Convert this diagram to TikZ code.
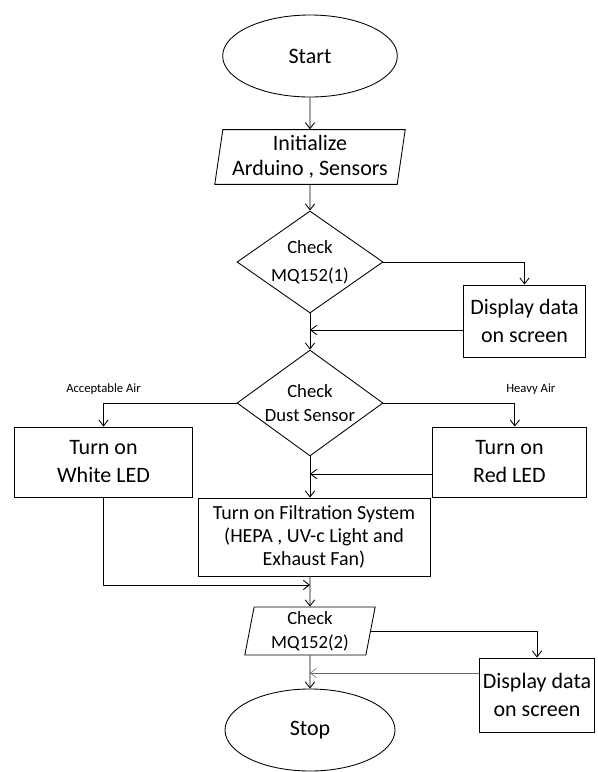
\documentclass[tikz,border=0pt]{standalone}
\usepackage{fontspec}
\setmainfont{Carlito}
\usetikzlibrary{arrows.meta,shapes.geometric}

\begin{document}
\begin{tikzpicture}[x=0.75pt,y=-0.75pt,line width=0.65pt,>={Straight Barb[length=4.5pt,width=7pt]},
terminal/.style={ellipse,draw,minimum width=131pt,minimum height=61.5pt,font=\fontsize{16.5}{20}\selectfont},
io/.style={trapezium,trapezium left angle=81,trapezium right angle=99,trapezium stretches=true,draw,align=center,inner sep=1pt},
decision/.style={diamond,draw,align=center,inner sep=-4pt,minimum width=109.5pt,minimum height=76.5pt,font=\fontsize{14}{18}\selectfont},
process/.style={rectangle,draw,align=center,inner sep=2pt,font=\fontsize{16.5}{21}\selectfont},
note/.style={font=\fontsize{9.5}{11}\selectfont}]
\useasboundingbox (0,0) rectangle (598,772);
\node[terminal] (start) at (310,56) {Start};
\node[io,minimum width=143pt,minimum height=41pt,font=\fontsize{16.5}{19}\selectfont] (init) at (310,157) {Initialize\\Arduino , Sensors};
\node[decision,font=\fontsize{14}{21}\selectfont] (chk1) at (310,262) {Check\\MQ152(1)};
\node[process,minimum width=92pt,minimum height=54pt] (disp1) at (524.5,321) {Display data\\on screen};
\node[decision] (dust) at (310,403) {Check\\Dust Sensor};
\node[process,minimum width=133pt,minimum height=52.5pt] (white) at (103.5,462) {Turn on\\White LED};
\node[process,minimum width=115pt,minimum height=52.5pt] (red) at (509.5,462) {Turn on\\Red LED};
\node[process,minimum width=174pt,minimum height=58.5pt,font=\fontsize{15}{17}\selectfont] (filter) at (314,537) {Turn on Filtration System\\(HEPA , UV-c Light and\\Exhaust Fan)};
\node[io,minimum width=98pt,minimum height=36pt,font=\fontsize{14}{18}\selectfont] (chk2) at (310,631) {Check\\MQ152(2)};
\node[process,minimum width=86pt,minimum height=55.5pt] (disp2) at (537,695) {Display data\\on screen};
\node[terminal,minimum width=127.5pt] (stop) at (310,730) {Stop};
\coordinate (fb1) at ([yshift=-6.75pt]disp1.west);
\coordinate (fb2) at ([yshift=-9pt]red.west);
\coordinate (fb3) at ([yshift=16.5pt]disp2.west);
\coordinate (merge) at (310,585);
\draw[->] (start) -- (init);
\draw[->] (init) -- (chk1);
\draw[->] (chk1.east) -| (disp1.north);
\draw[->] (fb1) -- (fb1 -| chk1.south);
\draw[->] (chk1) -- (dust);
\draw[->] (dust.west) -| node[note,pos=0.5,above=3pt] {Acceptable Air} (white.north);
\draw[->] (dust.east) -| node[note,pos=0.5,above=3pt,xshift=12pt] {Heavy Air} ([xshift=4pt]red.north);
\draw[->] (fb2) -- (fb2 -| dust.south);
\draw[->] (dust.south) -- (dust.south |- filter.north);
\draw (chk2.north |- filter.south) -- (merge);
\draw[->] (white.south) |- (merge);
\draw[->] (merge) -- (chk2.north);
\draw[->] (chk2.east) -| (disp2.north);
\draw[->,thin,black!60] (fb3) -- (fb3 -| stop.north);
\draw[->] (chk2) -- (stop);
\end{tikzpicture}
\end{document}
